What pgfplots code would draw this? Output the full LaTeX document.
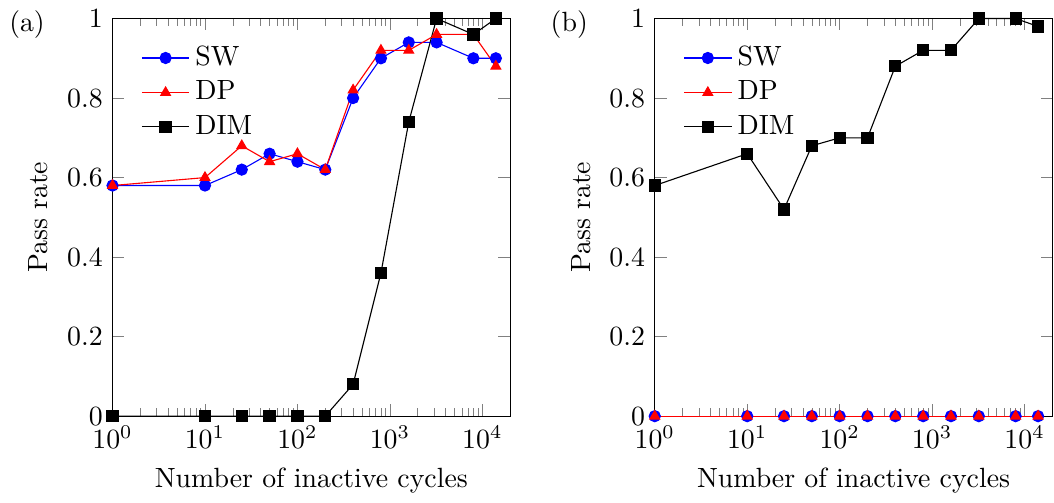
\documentclass[border=0pt]{standalone}
\usepackage{pgfplots}
\pgfplotsset{compat=1.18}
\begin{document}
\begin{tikzpicture}
\begin{axis}[xmode=log, width=143pt, height=143pt, scale only axis,
    xmin=1, xmax=20000, ymin=0, ymax=1,
    ytick={0,0.2,0.4,0.6,0.8,1},
    yticklabels={0,0.2,0.4,0.6,0.8,1},
    xtick={1,10,100,1000,10000},
    xlabel={Number of inactive cycles}, ylabel={Pass rate},
    legend style={draw=none, fill=none, at={(0.05,0.96)}, anchor=north west},
    legend cell align=left, clip=false]
\addplot[blue, mark=*] coordinates {(1,0.58) (10,0.58) (25,0.62) (50,0.66) (100,0.64) (200,0.62) (400,0.80) (800,0.90) (1600,0.94) (3200,0.94) (8000,0.90) (14000,0.90)};
\addplot[red, mark=triangle*] coordinates {(1,0.58) (10,0.60) (25,0.68) (50,0.64) (100,0.66) (200,0.62) (400,0.82) (800,0.92) (1600,0.92) (3200,0.96) (8000,0.96) (14000,0.88)};
\addplot[black, mark=square*] coordinates {(1,0) (10,0) (25,0) (50,0) (100,0) (200,0) (400,0.08) (800,0.36) (1600,0.74) (3200,1.0) (8000,0.96) (14000,1.0)};
\legend{SW,DP,DIM}
\node at (rel axis cs:-0.215,0.985) {(a)};
\end{axis}
\begin{axis}[at={(195pt,0)}, xmode=log, width=143pt, height=143pt, scale only axis,
    xmin=1, xmax=20000, ymin=0, ymax=1,
    ytick={0,0.2,0.4,0.6,0.8,1},
    yticklabels={0,0.2,0.4,0.6,0.8,1},
    xtick={1,10,100,1000,10000},
    xlabel={Number of inactive cycles}, ylabel={Pass rate},
    legend style={draw=none, fill=none, at={(0.05,0.96)}, anchor=north west},
    legend cell align=left, clip=false]
\addplot[blue, mark=*] coordinates {(1,0) (10,0) (25,0) (50,0) (100,0) (200,0) (400,0) (800,0) (1600,0) (3200,0) (8000,0) (14000,0)};
\addplot[red, mark=triangle*] coordinates {(1,0) (10,0) (25,0) (50,0) (100,0) (200,0) (400,0) (800,0) (1600,0) (3200,0) (8000,0) (14000,0)};
\addplot[black, mark=square*] coordinates {(1,0.58) (10,0.66) (25,0.52) (50,0.68) (100,0.70) (200,0.70) (400,0.88) (800,0.92) (1600,0.92) (3200,1.0) (8000,1.0) (14000,0.98)};
\legend{SW,DP,DIM}
\node at (rel axis cs:-0.215,0.985) {(b)};
\end{axis}
\end{tikzpicture}
\end{document}
